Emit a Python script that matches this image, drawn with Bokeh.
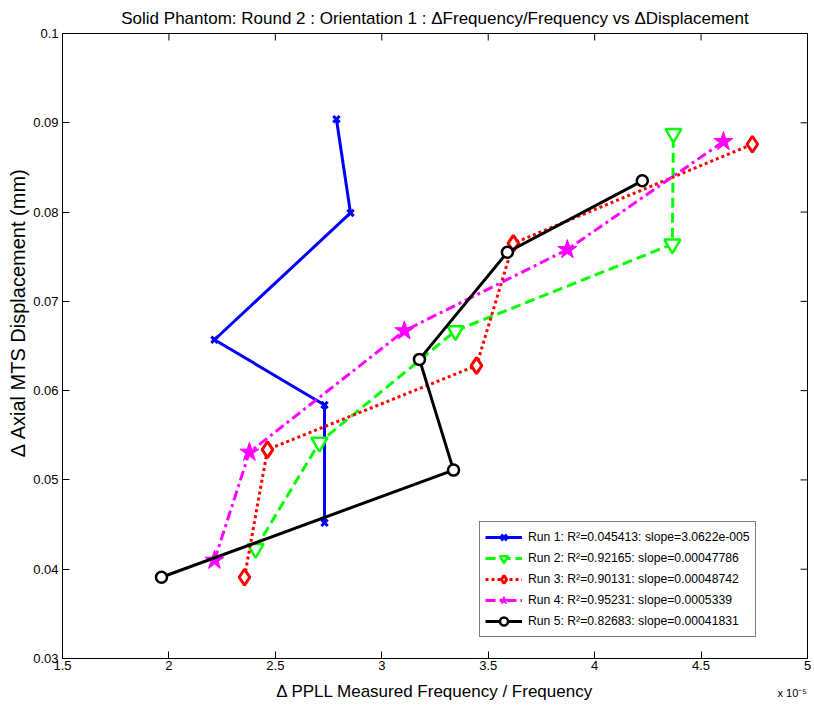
import math
from bokeh.plotting import figure
from bokeh.models import Range1d, FixedTicker, LinearAxis
from bokeh.embed import file_html
from bokeh.resources import INLINE

# ---- data (x in units of 1e-5) ----
x_ticks = [1.5, 2, 2.5, 3, 3.5, 4, 4.5, 5]
y_ticks = [0.03, 0.04, 0.05, 0.06, 0.07, 0.08, 0.09, 0.1]
x_tick_labels = ["1.5", "2", "2.5", "3", "3.5", "4", "4.5", "5"]
y_tick_labels = ["0.03", "0.04", "0.05", "0.06", "0.07", "0.08", "0.09", "0.1"]
x_exponent_label = "x 10\u207b\u2075"

run1_x = [2.731, 2.731, 2.214, 2.853, 2.787]
run1_y = [0.0452, 0.0584, 0.0657, 0.0799, 0.0904]
run2_x = [2.407, 2.707, 3.346, 4.365, 4.370]
run2_y = [0.0423, 0.0542, 0.0667, 0.0764, 0.0888]
run3_x = [2.355, 2.463, 3.445, 3.618, 4.741]
run3_y = [0.0391, 0.0534, 0.0628, 0.0765, 0.0876]
run4_x = [2.214, 2.378, 3.106, 3.872, 4.605]
run4_y = [0.0410, 0.0531, 0.0667, 0.0758, 0.0879]
run5_x = [1.965, 3.337, 3.177, 3.590, 4.224]
run5_y = [0.0391, 0.0511, 0.0635, 0.0755, 0.0835]

labels = [
    "Run 1: R\u00b2=0.045413: slope=3.0622e-005",
    "Run 2: R\u00b2=0.92165: slope=0.00047786",
    "Run 3: R\u00b2=0.90131: slope=0.00048742",
    "Run 4: R\u00b2=0.95231: slope=0.0005339",
    "Run 5: R\u00b2=0.82683: slope=0.00041831",
]

title_text = "Solid Phantom: Round 2 : Orientation 1 : \u0394Frequency/Frequency vs \u0394Displacement"
xlabel_text = "\u0394 PPLL Measured Frequency / Frequency"
ylabel_text = "\u0394 Axial MTS Displacement (mm)"

FONT = "Liberation Sans"
X0, X1 = 1.5, 5.0
Y0, Y1 = 0.03, 0.1
FRAME_W, FRAME_H = 745, 626
TICK_PX = 7

p = figure(width=814, height=706, output_backend="svg", toolbar_location=None,
           x_range=Range1d(X0, X1), y_range=Range1d(Y0, Y1),
           min_border_left=62, min_border_right=7, min_border_top=32, min_border_bottom=48,
           background_fill_color="white", border_fill_color="white")
p.grid.visible = False
p.outline_line_color = "black"
p.outline_line_width = 1

p.title.text = title_text
p.title.align = "center"
p.title.text_font = FONT
p.title.text_font_size = "17px"
p.title.text_font_style = "normal"
p.title.text_color = "black"
p.title.standoff = 12

def style_axis(ax, standoff):
    ax.major_tick_in = TICK_PX
    ax.major_tick_out = 0
    ax.minor_tick_in = 0
    ax.minor_tick_out = 0
    ax.axis_line_color = "black"
    ax.major_tick_line_color = "black"
    ax.major_label_text_font = FONT
    ax.major_label_text_color = "black"
    ax.major_label_standoff = standoff
    ax.major_label_text_font_size = "13px"

p.xaxis.ticker = FixedTicker(ticks=x_ticks)
p.yaxis.ticker = FixedTicker(ticks=y_ticks)
p.xaxis.major_label_overrides = dict(zip(x_ticks, x_tick_labels))
p.yaxis.major_label_overrides = dict(zip(y_ticks, y_tick_labels))
style_axis(p.xaxis[0], 2)
style_axis(p.yaxis[0], 4)

p.xaxis.axis_label = xlabel_text
p.xaxis.axis_label_text_font = FONT
p.xaxis.axis_label_text_font_size = "17px"
p.xaxis.axis_label_text_font_style = "normal"
p.xaxis.axis_label_text_color = "black"
p.xaxis.axis_label_standoff = 9

# y label: leading no-break spaces push it upward, as in the reference
p.yaxis.axis_label = "\u00a0" * 12 + ylabel_text
p.yaxis.axis_label_text_font = FONT
p.yaxis.axis_label_text_font_size = "20px"
p.yaxis.axis_label_text_font_style = "normal"
p.yaxis.axis_label_text_color = "black"
p.yaxis.axis_label_standoff = 1

# exponent "x 10^-5" under the right end of the x axis (extra label-only axis)
exp_axis = LinearAxis(ticker=FixedTicker(ticks=[X1]),
                      major_label_overrides={X1: x_exponent_label})
exp_axis.axis_line_color = None
exp_axis.major_tick_line_color = None
exp_axis.minor_tick_line_color = None
exp_axis.major_tick_in = 0
exp_axis.major_tick_out = 0
exp_axis.major_label_text_font = FONT
exp_axis.major_label_text_font_size = "11px"
exp_axis.major_label_text_color = "black"
exp_axis.major_label_text_align = "right"
exp_axis.major_label_text_baseline = "alphabetic"
exp_axis.major_label_standoff = -17
p.add_layout(exp_axis, "below")

# inward ticks on top and right edges (box style)
dy_tick = TICK_PX * (Y1 - Y0) / FRAME_H
dx_tick = TICK_PX * (X1 - X0) / FRAME_W
p.segment(x0=x_ticks, y0=[Y1] * len(x_ticks), x1=x_ticks, y1=[Y1 - dy_tick] * len(x_ticks),
          line_color="black", line_width=1)
p.segment(x0=[X1] * len(y_ticks), y0=y_ticks, x1=[X1 - dx_tick] * len(y_ticks), y1=y_ticks,
          line_color="black", line_width=1)

LW = 3
p.line(run1_x, run1_y, line_color="#0000ff", line_width=LW, legend_label=labels[0])
p.scatter(run1_x, run1_y, marker="x", size=9, line_color="#0000ff", line_width=3, legend_label=labels[0])

p.line(run2_x, run2_y, line_color="#00ff00", line_width=LW, line_dash="10 5", legend_label=labels[1])
p.scatter(run2_x, run2_y, marker="inverted_triangle", size=16, line_color="#00ff00", line_width=2.5,
          fill_color="white", legend_label=labels[1])

p.line(run3_x, run3_y, line_color="#ff0000", line_width=LW, line_dash="3 3", legend_label=labels[2])
p.scatter(run3_x, run3_y, marker="diamond", size=16, line_color="#ff0000", line_width=3,
          fill_color="white", legend_label=labels[2])

p.line(run4_x, run4_y, line_color="#ff00ff", line_width=LW, line_dash="10 4 3 4", legend_label=labels[3])
p.scatter(run4_x, run4_y, marker="star", size=20, line_color="#ff00ff", line_width=1,
          fill_color="#ff00ff", legend_label=labels[3])

p.line(run5_x, run5_y, line_color="black", line_width=LW, legend_label=labels[4])
p.scatter(run5_x, run5_y, marker="circle", size=11, line_color="black", line_width=2.5,
          fill_color="white", legend_label=labels[4])

lg = p.legend[0]
lg.location = (417, 21)
lg.border_line_color = "black"
lg.border_line_width = 1
lg.background_fill_color = "white"
lg.background_fill_alpha = 1
lg.label_text_font = FONT
lg.label_text_font_size = "12.2px"
lg.label_text_color = "black"
lg.glyph_width = 37
lg.glyph_height = 20
lg.label_height = 20
lg.label_standoff = 6
lg.spacing = 1
lg.padding = 5
lg.margin = 0

open("out.html", "w").write(file_html(p, INLINE))
